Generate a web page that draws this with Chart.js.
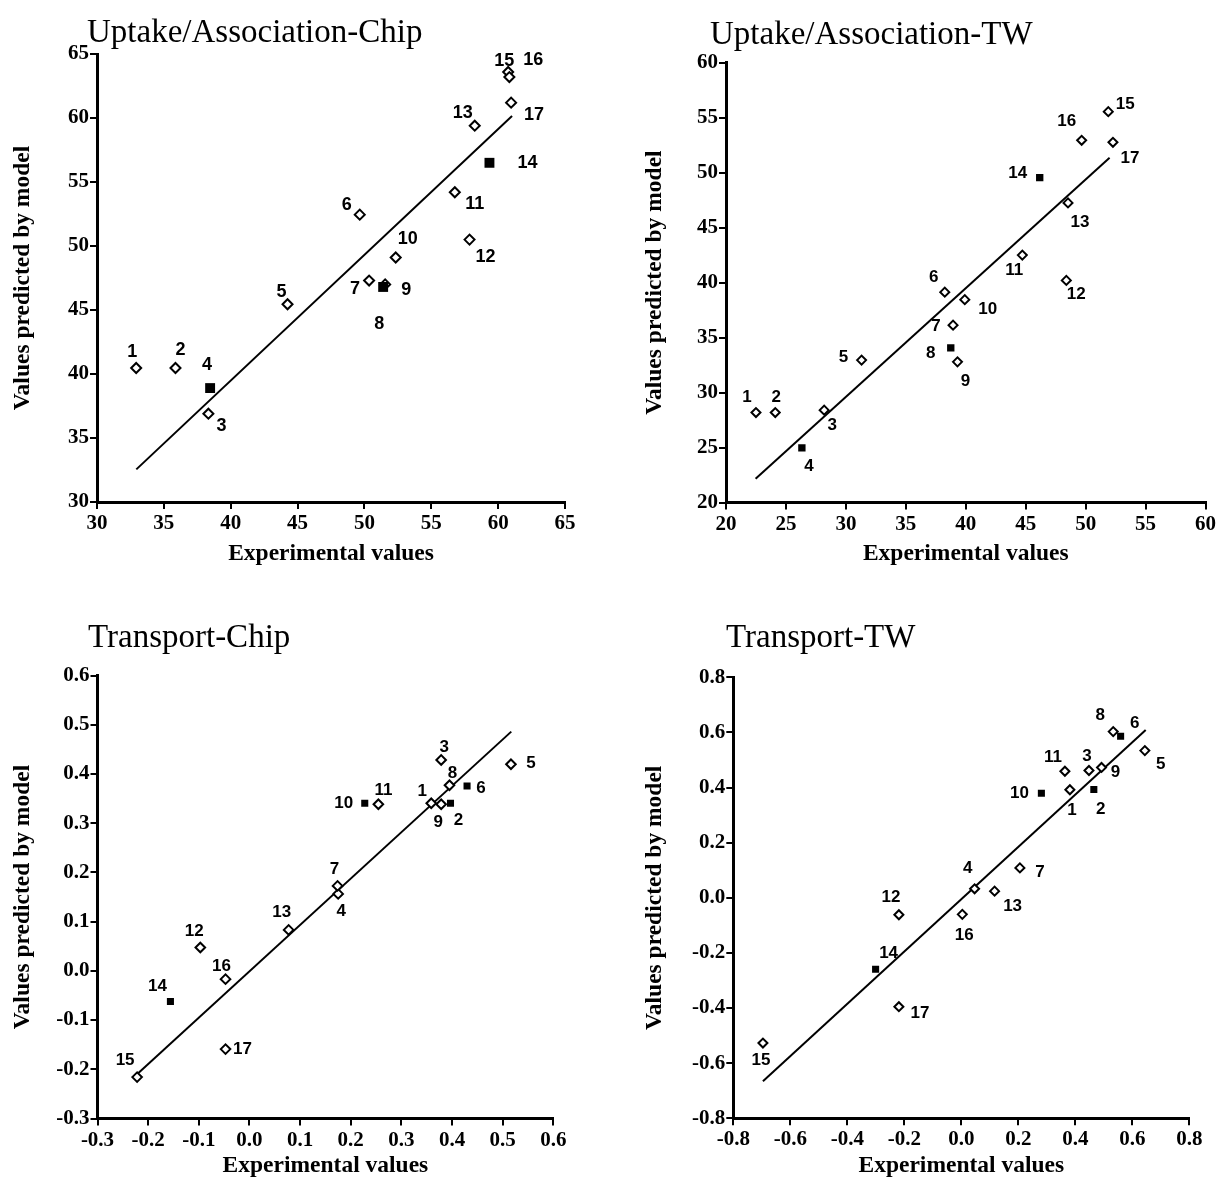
<!DOCTYPE html>
<html>
<head>
<meta charset="utf-8">
<script src="https://cdn.jsdelivr.net/npm/chart.js@4.4.0/dist/chart.umd.min.js"></script>
<style>
html, body { margin: 0; padding: 0; background: #ffffff; }
#wrap { position: relative; width: 1218px; height: 1180px; overflow: hidden; }
.panel { position: absolute; width: 609px; height: 590px; }
canvas { display: block; }
</style>
</head>
<body>
<div id="wrap">
  <div class="panel" style="left:0px;top:0px"><canvas id="c1" width="609" height="590"></canvas></div>
  <div class="panel" style="left:609px;top:0px"><canvas id="c2" width="609" height="590"></canvas></div>
  <div class="panel" style="left:0px;top:590px"><canvas id="c3" width="609" height="590"></canvas></div>
  <div class="panel" style="left:609px;top:590px"><canvas id="c4" width="609" height="590"></canvas></div>
</div>
<script>
// ---------------- DATA ----------------
const compoundIds = ['1','2','3','4','5','6','7','8','9','10','11','12','13','14','15','16','17'];

// Uptake/Association-Chip
const upChipExp  = [32.93, 35.87, 38.33, 38.46, 44.25, 49.65, 50.35, 51.40, 51.55, 52.34, 56.76, 57.86, 58.25, 59.35, 60.75, 60.84, 60.97];
const upChipPred = [40.47, 40.47, 36.90, 38.90, 45.45, 52.45, 47.30, 46.80, 47.00, 49.10, 54.20, 50.50, 59.40, 56.50, 63.60, 63.20, 61.20];
const upChipFilled = ['4','8','14'];
const upChipFitX = [32.94, 61.04];
const upChipFitY = [32.55, 60.16];
const upChipTicks = [30, 35, 40, 45, 50, 55, 60, 65];

// Uptake/Association-TW
const upTwExp  = [22.50, 24.11, 28.19, 26.33, 31.31, 38.25, 38.94, 38.75, 39.31, 39.92, 44.72, 48.39, 48.53, 46.17, 51.89, 49.67, 52.28];
const upTwPred = [28.18, 28.18, 28.40, 24.97, 32.95, 39.13, 36.13, 34.06, 32.79, 38.45, 42.50, 40.20, 47.25, 49.55, 55.55, 52.94, 52.76];
const upTwFilled = ['4','8','14'];
const upTwFitX = [22.47, 52.00];
const upTwFitY = [22.15, 51.36];
const upTwTicks = [20, 25, 30, 35, 40, 45, 50, 55, 60];

// Transport-Chip
const trChipExp  = [0.359, 0.397, 0.3786, 0.1752, 0.5164, 0.4297, 0.174, 0.395, 0.3786, 0.2277, 0.2546, -0.097, 0.0774, -0.156, -0.2218, -0.0472, -0.0472];
const trChipPred = [0.3405, 0.3405, 0.4284, 0.1563, 0.4197, 0.3756, 0.1726, 0.377, 0.3384, 0.3405, 0.3384, 0.0474, 0.0832, -0.0623, -0.2159, -0.0169, -0.159];
const trChipFilled = ['2','6','10','14'];
const trChipFitX = [-0.223, 0.517];
const trChipFitY = [-0.211, 0.486];
const trChipTicks = [-0.3, -0.2, -0.1, 0.0, 0.1, 0.2, 0.3, 0.4, 0.5, 0.6];

// Transport-TW
const trTwExp  = [0.381, 0.465, 0.448, 0.0467, 0.644, 0.559, 0.2056, 0.533, 0.492, 0.281, 0.3635, -0.219, 0.1168, -0.3007, -0.696, 0.0035, -0.219];
const trTwPred = [0.392, 0.393, 0.462, 0.0326, 0.534, 0.586, 0.1085, 0.603, 0.473, 0.379, 0.459, -0.0615, 0.0242, -0.259, -0.527, -0.060, -0.395];
const trTwFilled = ['2','6','10','14'];
const trTwFitX = [-0.696, 0.647];
const trTwFitY = [-0.6655, 0.609];
const trTwTicks = [-0.8, -0.6, -0.4, -0.2, 0.0, 0.2, 0.4, 0.6, 0.8];

const panelTitles = ['Uptake/Association-Chip', 'Uptake/Association-TW', 'Transport-Chip', 'Transport-TW'];
const xAxisTitle = 'Experimental values';
const yAxisTitle = 'Values predicted by model';

// ---------------- LABEL PLACEMENT (pixel offsets of each number from its marker) ----------------
const upChipLabelOffsets = [[-4,-16],[5,-18],[13,12],[-3,-23],[-6,-12],[-13,-10],[-14,8],[-4,37],[21,6],[12,-18],[20,12],[16,17],[-12,-13],[38,0],[-4,-11],[24,-17],[23,12]];
const upTwLabelOffsets   = [[-9,-15],[1,-15],[8,15],[7,18],[-18,-3],[-11,-15],[-17,1],[-20,5],[8,19],[23,10],[-8,15],[10,14],[12,19],[-22,-4],[17,-7],[-15,-19],[17,16]];
const trChipLabelOffsets = [[-9,-12],[8,17],[3,-13],[3,17],[20,-1],[14,2],[-3,-17],[3,-12],[-3,18],[-21,0],[5,-14],[-6,-16],[-7,-18],[-13,-15],[-12,-17],[-4,-13],[17,0]];
const trTwLabelOffsets   = [[2,21],[7,20],[-2,-14],[-7,-21],[16,14],[14,-13],[20,4],[-13,-16],[14,5],[-22,0],[-12,-14],[-8,-17],[18,15],[13,-16],[-2,17],[2,21],[21,7]];

// ---------------- STYLE / LAYOUT ----------------
const SERIF = '"Liberation Serif", "Times New Roman", Times, serif';
const SANS = '"Liberation Sans", Arial, Helvetica, sans-serif';

const panelText = {
  id: 'panelText',
  afterDatasetsDraw(chart, args, o) {
    const ctx = chart.ctx;
    const xs = chart.scales.x, ys = chart.scales.y;
    ctx.save();
    ctx.fillStyle = '#000';
    ctx.font = 'bold ' + o.labelSize + 'px ' + SANS;
    ctx.textAlign = 'center';
    ctx.textBaseline = 'middle';
    o.ids.forEach((id, i) => {
      const px = xs.getPixelForValue(o.xv[i]) + o.offsets[i][0];
      const py = ys.getPixelForValue(o.yv[i]) + o.offsets[i][1];
      ctx.fillText(id, px, py);
    });
    ctx.font = '33px ' + SERIF;
    ctx.textAlign = 'left';
    ctx.textBaseline = 'alphabetic';
    ctx.fillText(o.title, o.titleX, o.titleY);
    ctx.restore();
  }
};

function makePanel(canvasId, cfg) {
  const open = [], filled = [];
  compoundIds.forEach((id, i) => {
    const p = { x: cfg.exp[i], y: cfg.pred[i] };
    if (cfg.filled.includes(id)) filled.push(p); else open.push(p);
  });
  const fit = cfg.fitX.map((x, i) => ({ x: x, y: cfg.fitY[i] }));
  const fmt = v => Number(v).toFixed(cfg.dec);
  const tickFont = { family: SERIF, size: 21, weight: 'bold' };
  const titleFont = { family: SERIF, size: 23.5, weight: 'bold' };
  const yTitleFont = { family: SERIF, size: 23.5, weight: 'bold' };
  const grid = { display: true, drawOnChartArea: false, drawTicks: true, tickLength: 7, lineWidth: 2, color: '#000' };
  const border = { display: true, width: 3, color: '#000' };
  const g = cfg.geom;

  new Chart(document.getElementById(canvasId), {
    type: 'scatter',
    data: {
      datasets: [
        { label: 'filled', data: filled, showLine: false, pointStyle: 'rect', pointRadius: cfg.sqR,
          pointBackgroundColor: '#000', pointBorderColor: '#000', pointBorderWidth: 0 },
        { label: 'open', data: open, showLine: false, pointStyle: 'rectRot', pointRadius: cfg.diaR,
          pointBackgroundColor: '#fff', pointBorderColor: '#000', pointBorderWidth: 2 },
        { label: 'fit', data: fit, showLine: true, pointRadius: 0, borderColor: '#000', borderWidth: 2, fill: false }
      ]
    },
    options: {
      responsive: false,
      devicePixelRatio: 1,
      animation: false,
      events: [],
      layout: { padding: { left: 0, top: g.top, right: g.right, bottom: 0 } },
      plugins: {
        legend: { display: false },
        tooltip: { enabled: false },
        panelText: {
          ids: compoundIds, xv: cfg.exp, yv: cfg.pred, offsets: cfg.offsets, labelSize: cfg.labelSize,
          title: cfg.title, titleX: g.titleX, titleY: g.titleY
        }
      },
      scales: {
        x: {
          type: 'linear', position: 'bottom',
          min: cfg.ticks[0], max: cfg.ticks[cfg.ticks.length - 1],
          afterBuildTicks: s => { s.ticks = cfg.ticks.map(v => ({ value: v })); },
          afterFit: s => { s.height = g.xH; },
          grid: grid, border: border,
          ticks: { color: '#000', font: tickFont, padding: 2, maxRotation: 0, minRotation: 0, autoSkip: false, callback: v => fmt(v) },
          title: { display: true, text: xAxisTitle, color: '#000', font: titleFont, padding: { top: 0, bottom: g.xTitlePad } }
        },
        y: {
          type: 'linear', position: 'left',
          min: cfg.ticks[0], max: cfg.ticks[cfg.ticks.length - 1],
          afterBuildTicks: s => { s.ticks = cfg.ticks.map(v => ({ value: v })); },
          afterFit: s => { s.width = g.yW; },
          grid: grid, border: border,
          ticks: { color: '#000', font: tickFont, padding: 1, autoSkip: false, callback: v => fmt(v) },
          title: { display: true, text: yAxisTitle, color: '#000', font: yTitleFont, padding: { top: g.yTitlePad, bottom: 0 } }
        }
      }
    },
    plugins: [panelText]
  });
}

makePanel('c1', {
  exp: upChipExp, pred: upChipPred, filled: upChipFilled, fitX: upChipFitX, fitY: upChipFitY,
  ticks: upChipTicks, dec: 0, offsets: upChipLabelOffsets, title: panelTitles[0],
  sqR: 7, diaR: 5, labelSize: 18,
  geom: { yW: 97, top: 54, right: 44, xH: 88, yTitlePad: 8.5, xTitlePad: 21.5, titleX: 87, titleY: 42 }
});
makePanel('c2', {
  exp: upTwExp, pred: upTwPred, filled: upTwFilled, fitX: upTwFitX, fitY: upTwFitY,
  ticks: upTwTicks, dec: 0, offsets: upTwLabelOffsets, title: panelTitles[1],
  sqR: 5.2, diaR: 4.5, labelSize: 17,
  geom: { yW: 117, top: 62.7, right: 12, xH: 87.5, yTitlePad: 31.5, xTitlePad: 21.5, titleX: 101, titleY: 44 }
});
makePanel('c3', {
  exp: trChipExp, pred: trChipPred, filled: trChipFilled, fitX: trChipFitX, fitY: trChipFitY,
  ticks: trChipTicks, dec: 1, offsets: trChipLabelOffsets, title: panelTitles[2],
  sqR: 5, diaR: 4.8, labelSize: 17,
  geom: { yW: 97.5, top: 85.5, right: 55.7, xH: 61.5, yTitlePad: 8.5, xTitlePad: 0, titleX: 88, titleY: 57 }
});
makePanel('c4', {
  exp: trTwExp, pred: trTwPred, filled: trTwFilled, fitX: trTwFitX, fitY: trTwFitY,
  ticks: trTwTicks, dec: 1, offsets: trTwLabelOffsets, title: panelTitles[3],
  sqR: 5, diaR: 4.5, labelSize: 17,
  geom: { yW: 124.3, top: 87.3, right: 28.7, xH: 61.7, yTitlePad: 31.5, xTitlePad: 0, titleX: 117, titleY: 57 }
});
</script>
</body>
</html>
